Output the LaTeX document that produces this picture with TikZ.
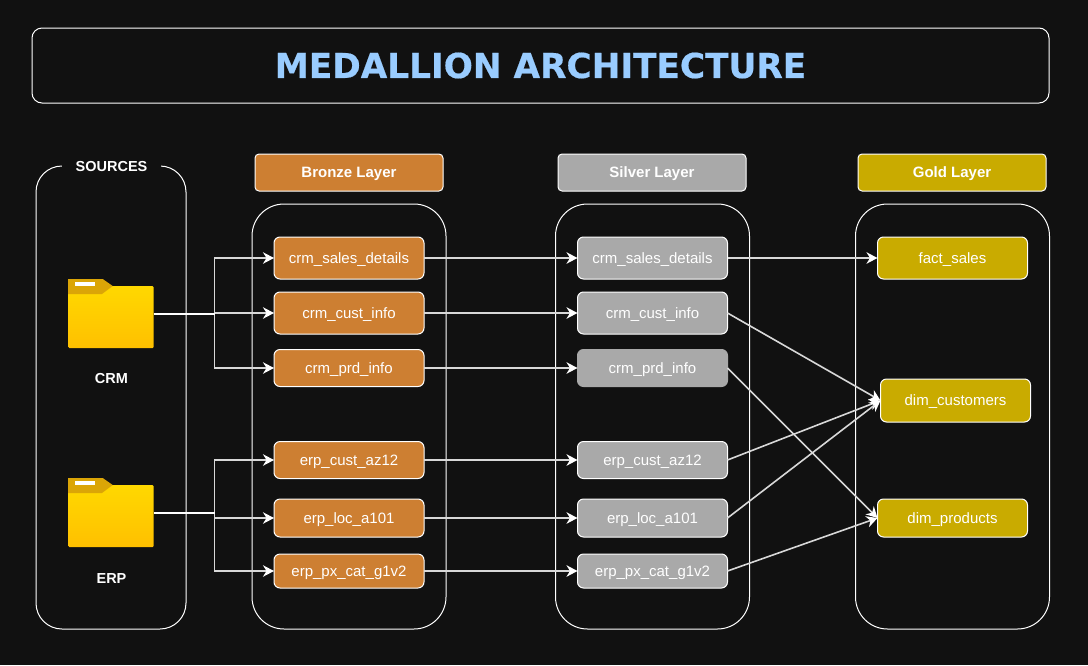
\documentclass[tikz,border=0pt]{standalone}
\usepackage{fontspec}
\setmainfont{Liberation Sans}
\newfontfamily\titlefont[BoldFeatures={FakeBold=0.5}]{DejaVu Sans}
\usetikzlibrary{arrows.meta,calc}
\definecolor{bg}{HTML}{111111}
\definecolor{bronze}{HTML}{CD7F32}
\definecolor{silver}{HTML}{A9A9A9}
\definecolor{gold}{HTML}{C9AB00}
\definecolor{titleblue}{HTML}{99CCFF}
\definecolor{folderdark}{HTML}{DBA507}
\definecolor{foldertop}{HTML}{FFD800}
\definecolor{folderbot}{HTML}{FFC000}
\definecolor{linegray}{HTML}{D8D8D8}
\tikzset{
  x=1pt,y=-1pt,
  every node/.style={inner sep=0pt,outer sep=0pt,text=white,font=\fontsize{14.5}{17}\selectfont},
  header/.style={draw=white,line width=1pt,rounded corners=4pt,minimum width=188pt,minimum height=37pt,text height=10.4pt,text depth=0pt,font=\fontsize{15}{17}\selectfont\bfseries,text=white},
  tbl/.style={draw=white,line width=1pt,rounded corners=6pt,minimum width=150pt,text height=10.4pt,text depth=0pt,font=\fontsize{15}{17}\selectfont},
  bronzebox/.style={tbl,fill=bronze},
  silverbox/.style={tbl,fill=silver},
  goldbox/.style={tbl,fill=gold},
  folderbody/.style={minimum width=85pt,minimum height=62pt,rounded corners=1pt,top color=foldertop,bottom color=folderbot},
  flow/.style={draw=linegray,line width=1.6pt,-{Stealth[length=11pt,width=11.5pt,inset=3.5pt,color=white]}},
  trunk/.style={draw=white,line width=2pt},
  branch/.style={draw=linegray,line width=1.5pt,-{Stealth[length=11pt,width=11.5pt,inset=3.5pt,color=white]}},
}
\begin{document}
\begin{tikzpicture}
\path[fill=bg,use as bounding box] (0,0) rectangle (1088,665);

% title
\node[draw=white,line width=1pt,rounded corners=10pt,minimum width=1017pt,minimum height=75pt,
  font=\titlefont\fontsize{34.3}{38}\selectfont\bfseries,text=titleblue] (title) at (540.5,65.5) {MEDALLION ARCHITECTURE};

% containers
\draw[white,line width=1pt,rounded corners=26pt] (36,166) rectangle (186,629);
\node[fill=bg,minimum width=99pt,minimum height=22pt,font=\fontsize{14.5}{17}\selectfont\bfseries] (sources) at (111.5,166.5) {SOURCES};
\draw[white,line width=1pt,rounded corners=32pt] (252,204) rectangle (446,629);
\draw[white,line width=1pt,rounded corners=32pt] (555.5,204) rectangle (749.5,629);
\draw[white,line width=1pt,rounded corners=32pt] (855.5,204) rectangle (1049.5,629);

% headers
\node[header,fill=bronze] (hb) at (349,172.5) {Bronze Layer};
\node[header,fill=silver] (hs) at (652,172.5) {Silver Layer};
\node[header,fill=gold]   (hg) at (952,172.5) {Gold Layer};

% folders
\node[folderbody] (crm) at (111,317) {};
\fill[folderdark] (68,279) -- (102.7,279) -- (112.7,286) -- (102,294) -- (68,294) -- cycle;
\fill[white] (75,282) rectangle (95,286);
\node[font=\fontsize{14.5}{17}\selectfont\bfseries] (crml) at (111.5,378.5) {CRM};
\node[folderbody] (erp) at (111,516) {};
\fill[folderdark] (68,478) -- (102.7,478) -- (112.7,485) -- (102,493) -- (68,493) -- cycle;
\fill[white] (75,481) rectangle (95,485);
\node[font=\fontsize{14.5}{17}\selectfont\bfseries] (erpl) at (111.5,578.5) {ERP};

% bronze tables
\node[bronzebox,minimum height=42pt] (b1) at (349,258) {crm\_sales\_details};
\node[bronzebox,minimum height=42pt] (b2) at (349,313) {crm\_cust\_info};
\node[bronzebox,minimum height=37pt] (b3) at (349,368) {crm\_prd\_info};
\node[bronzebox,minimum height=37pt] (b4) at (349,460) {erp\_cust\_az12};
\node[bronzebox,minimum height=38pt] (b5) at (349,518) {erp\_loc\_a101};
\node[bronzebox,minimum height=34pt] (b6) at (349,571) {erp\_px\_cat\_g1v2};

% silver tables
\node[silverbox,minimum height=42pt] (s1) at (652.5,258) {crm\_sales\_details};
\node[silverbox,minimum height=42pt] (s2) at (652.5,313) {crm\_cust\_info};
\node[silverbox,minimum height=37pt,draw=silver] (s3) at (652.5,368) {crm\_prd\_info};
\node[silverbox,minimum height=37pt] (s4) at (652.5,460) {erp\_cust\_az12};
\node[silverbox,minimum height=38pt] (s5) at (652.5,518) {erp\_loc\_a101};
\node[silverbox,minimum height=34pt] (s6) at (652.5,571) {erp\_px\_cat\_g1v2};

% gold tables
\node[goldbox,minimum height=42pt] (g1) at (952.5,258) {fact\_sales};
\node[goldbox,minimum height=43pt] (g2) at (955.5,400.5) {dim\_customers};
\node[goldbox,minimum height=38pt] (g3) at (952.5,518) {dim\_products};

% source branches
\coordinate (jc) at (214.5,314);
\coordinate (je) at (214.5,513);
\draw[branch] (jc) |- (b1.west);
\draw[branch] (jc |- b2.west) -- (b2.west);
\draw[branch] (jc) |- (b3.west);
\draw[branch] (je) |- (b4.west);
\draw[branch] (je |- b5.west) -- (b5.west);
\draw[branch] (je) |- (b6.west);
\draw[draw=linegray,line width=1.5pt] (je) -- (je |- b5.west);
\draw[trunk] (crm.east |- jc) -- (jc);
\draw[trunk] (erp.east |- je) -- (je);

% bronze to silver
\foreach \i in {1,...,6} { \draw[flow] (b\i.east) -- (s\i.west); }

% silver to gold
\draw[flow] (s1.east) -- (g1.west);
\draw[flow] (s2.east) -- (g2.west);
\draw[flow] (s3.east) -- (g3.west);
\draw[flow] (s4.east) -- (g2.west);
\draw[flow] (s5.east) -- (g2.west);
\draw[flow] (s6.east) -- (g3.west);
\end{tikzpicture}
\end{document}
